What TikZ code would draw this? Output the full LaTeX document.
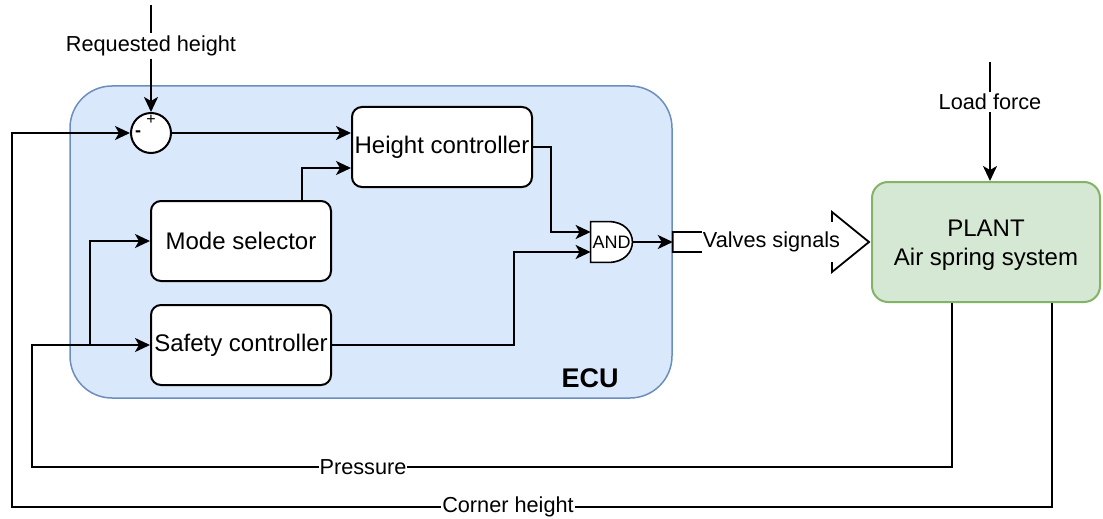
\documentclass[tikz,border=0pt]{standalone}
\usepackage{fontspec}
\setmainfont{Liberation Sans}
\usetikzlibrary{arrows.meta,calc}
\definecolor{ecufill}{HTML}{DAE8FC}
\definecolor{ecudraw}{HTML}{6C8EBF}
\definecolor{plantfill}{HTML}{D5E8D4}
\definecolor{plantdraw}{HTML}{82B366}
\begin{document}
\begin{tikzpicture}[x=0.5pt,y=-0.5pt,
  wire/.style={line width=1pt},
  arr/.style={wire,-{Stealth[length=7.5pt,width=7pt,inset=2pt]}},
  blk/.style={draw,line width=1pt,fill=white,rounded corners=5pt,minimum width=90pt,minimum height=40pt,inner sep=0pt,font=\fontsize{12}{14.5}\selectfont,align=center},
  lbl/.style={fill=white,inner xsep=0.5pt,inner ysep=1pt,font=\fontsize{10.85}{13}\selectfont},
  sign/.style={inner sep=0pt,font=\fontsize{8}{8}\selectfont}
]
\useasboundingbox (0,0) rectangle (1103,519);
% ECU container
\node[draw=ecudraw,fill=ecufill,line width=0.75pt,rounded corners=21pt,minimum width=301pt,minimum height=156pt,inner sep=0pt] (ecu) at (371,242) {};
\node[font=\fontsize{13.5}{16}\selectfont\bfseries] (ecul) at (590,378) {ECU};
% blocks
\node[blk] (hc) at (442,147) {Height controller};
\node[blk] (ms) at (241,241) {Mode selector};
\node[blk] (sc) at (241,345) {Safety controller};
\node[draw=plantdraw,fill=plantfill,line width=1pt,rounded corners=8pt,minimum width=114pt,minimum height=60pt,inner sep=0pt] (plant) at (986,242) {};
\node[align=center,inner sep=0pt,font=\fontsize{12}{14.5}\selectfont] (planttxt) at (986,245) {PLANT\\Air spring system};
% summing junction
\node[circle,draw,fill=white,line width=1pt,minimum size=20pt,inner sep=0pt] (sum) at (151,133) {};
\node[sign] (plus) at (151,120) {+};
\node[sign,font=\fontsize{9}{9}\selectfont\bfseries] (minus) at (138,134) {-};
% AND gate
\node[minimum width=20.5pt,minimum height=20pt,inner sep=0pt] (andg) at (611.5,242) {};
\draw[line width=0.8pt,fill=white] (andg.north west) -- ($(andg.north west)+(18,0)$)
  .. controls ($(andg.north east)+(-8,0)$) and ($(andg.east)+(0,-10)$) .. (andg.east)
  .. controls ($(andg.east)+(0,10)$) and ($(andg.south east)+(-8,0)$) .. ($(andg.south west)+(18,0)$)
  -- (andg.south west) -- cycle;
\node[inner sep=0pt,font=\fontsize{9}{10}\selectfont] (andt) at (andg) {AND};
% external inputs
\coordinate (rtop) at (151,5);
\node[lbl] (req) at (151,46) {Requested height};
\draw[wire] (rtop) -- (req);
\draw[arr] (req) -- (sum);
\coordinate (ltop) at (990,62);
\node[lbl] (load) at (990,102) {Load force};
\draw[wire] (ltop) -- (load);
\draw[arr] (load) -- (load |- plant.north);
% internal connections
\draw[arr] (sum) -- (hc.west |- sum);
\draw[arr] ($(ms.north east)+(-30,0)$) |- ($(hc.west)+(0,21)$);
\draw[arr] (hc.east) -- ++(18,0) |- ($(andg.west)+(0,-10)$);
\draw[arr] (sc.east) -- ++(182,0) |- ($(andg.west)+(0,10)$);
% valves flex arrow
\coordinate (va) at (ecu.east |- andg.east);
\coordinate (vb) at ($(plant.west)+(-2,0)$);
\draw[line width=0.9pt,fill=white] ($(va)+(0,-10)$) -- ($(vb)+(-37,-10)$) -- ($(vb)+(-37,-30)$) -- (vb) -- ($(vb)+(-37,30)$) -- ($(vb)+(-37,10)$) -- ($(va)+(0,10)$) -- cycle;
\draw[arr] (andg.east) -- (va);
\node[lbl,minimum height=20pt] (valves) at (771.5,242) {Valves signals};
% feedback
\coordinate (pr) at (32,467);
\coordinate (ch) at (12,507);
\draw[arr] ($(plant.south)+(-34,0)$) |- (pr) |- (sc.west);
\draw[arr] ($(sc.west)+(-60,0)$) |- (ms.west);
\draw[arr] ($(plant.south)+(66,0)$) |- (ch) |- (sum.west);
\node[lbl] (prl) at (363,467) {Pressure};
\node[lbl] (chl) at (508,507) {Corner height};
\end{tikzpicture}
\end{document}
